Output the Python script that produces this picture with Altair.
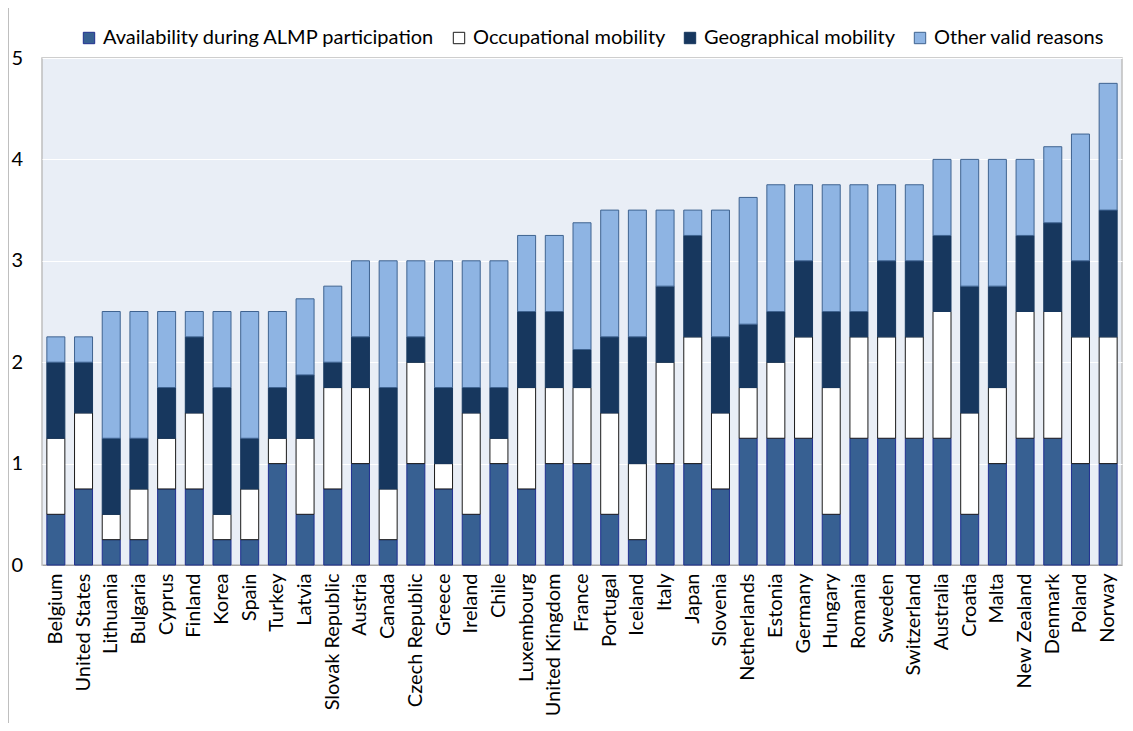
import altair as alt
import pandas as pd

countries = ["Belgium", "United States", "Lithuania", "Bulgaria", "Cyprus", "Finland", "Korea", "Spain",
             "Turkey", "Latvia", "Slovak Republic", "Austria", "Canada", "Czech Republic", "Greece",
             "Ireland", "Chile", "Luxembourg", "United Kingdom", "France", "Portugal", "Iceland", "Italy",
             "Japan", "Slovenia", "Netherlands", "Estonia", "Germany", "Hungary", "Romania", "Sweden",
             "Switzerland", "Australia", "Croatia", "Malta", "New Zealand", "Denmark", "Poland", "Norway"]

series = ["Availability during ALMP participation", "Occupational mobility",
          "Geographical mobility", "Other valid reasons"]

almp = [0.5, 0.75, 0.25, 0.25, 0.75, 0.75, 0.25, 0.25, 1.0, 0.5, 0.75, 1.0, 0.25, 1.0, 0.75,
        0.5, 1.0, 0.75, 1.0, 1.0, 0.5, 0.25, 1.0, 1.0, 0.75, 1.25, 1.25, 1.25, 0.5, 1.25, 1.25,
        1.25, 1.25, 0.5, 1.0, 1.25, 1.25, 1.0, 1.0]
occupational = [0.75, 0.75, 0.25, 0.5, 0.5, 0.75, 0.25, 0.5, 0.25, 0.75, 1.0, 0.75, 0.5, 1.0, 0.25,
                1.0, 0.25, 1.0, 0.75, 0.75, 1.0, 0.75, 1.0, 1.25, 0.75, 0.5, 0.75, 1.0, 1.25, 1.0, 1.0,
                1.0, 1.25, 1.0, 0.75, 1.25, 1.25, 1.25, 1.25]
geographical = [0.75, 0.5, 0.75, 0.5, 0.5, 0.75, 1.25, 0.5, 0.5, 0.625, 0.25, 0.5, 1.0, 0.25, 0.75,
                0.25, 0.5, 0.75, 0.75, 0.375, 0.75, 1.25, 0.75, 1.0, 0.75, 0.625, 0.5, 0.75, 0.75, 0.25, 0.75,
                0.75, 0.75, 1.25, 1.0, 0.75, 0.875, 0.75, 1.25]
other = [0.25, 0.25, 1.25, 1.25, 0.75, 0.25, 0.75, 1.25, 0.75, 0.75, 0.75, 0.75, 1.25, 0.75, 1.25,
         1.25, 1.25, 0.75, 0.75, 1.25, 1.25, 1.25, 0.75, 0.25, 1.25, 1.25, 1.25, 0.75, 1.25, 1.25, 0.75,
         0.75, 0.75, 1.25, 1.25, 0.75, 0.75, 1.25, 1.25]

fills = ["#376092", "#FFFFFF", "#17375E", "#8EB4E3"]
strokes = ["#1F2F8F", "#1A1A1A", "#17375E", "#3F6390"]

rows = []
for i, c in enumerate(countries):
    for k, vals in enumerate([almp, occupational, geographical, other]):
        rows.append({"country": c, "series": series[k], "idx": k, "value": vals[i]})
df = pd.DataFrame(rows)

FONT = "Lato"

legend = alt.Legend(title=None, orient="none", direction="horizontal", legendX=37, legendY=-30,
                    symbolType="square", symbolSize=130, symbolStrokeWidth=1, labelFontSize=20,
                    labelFont=FONT, labelColor="#000000", columnPadding=14, labelOffset=4,
                    labelLimit=500)

bars = alt.Chart(df).mark_bar(strokeWidth=1).encode(
    x=alt.X("country:N", sort=countries, title=None,
            scale=alt.Scale(paddingInner=0.35, paddingOuter=0.175),
            axis=alt.Axis(labelAngle=270, labelAlign="right", labelBaseline="middle",
                          labelFontSize=20, labelFont=FONT, labelColor="#000000", labelPadding=8,
                          ticks=False, domain=True, domainColor="#A6A6A6", grid=False,
                          labelLimit=300)),
    y=alt.Y("value:Q", stack="zero", title=None,
            scale=alt.Scale(domain=[0, 5], nice=False),
            axis=alt.Axis(values=[0, 1, 2, 3, 4, 5], labelFontSize=20, labelFont=FONT,
                          labelColor="#000000", labelPadding=31, ticks=False, domain=False,
                          grid=True, gridColor="#FFFFFF", gridWidth=1, labelAlign="left",
                          labelBaseline="middle")),
    fill=alt.Fill("series:N", scale=alt.Scale(domain=series, range=fills), legend=legend),
    stroke=alt.Stroke("series:N", scale=alt.Scale(domain=series, range=strokes), legend=legend),
    order=alt.Order("idx:Q", sort="ascending"),
)

frame = alt.Chart(pd.DataFrame({"v": [0]})).mark_rule(color="#BFBFBF", strokeWidth=1).encode(
    x=alt.value(-33.5), y=alt.value(-58), y2=alt.value(665)
)

chart = alt.layer(bars, frame).properties(
    width=1080, height=507,
    autosize=alt.AutoSizeParams(type="none"),
    padding={"left": 34, "top": 50, "right": 3, "bottom": 158},
    background="#FFFFFF",
).configure_view(
    fill="#E9EEF6", stroke="#BFBFBF", strokeWidth=1.5
)

chart.save("out.html", embed_options={"renderer": "svg", "actions": False})
